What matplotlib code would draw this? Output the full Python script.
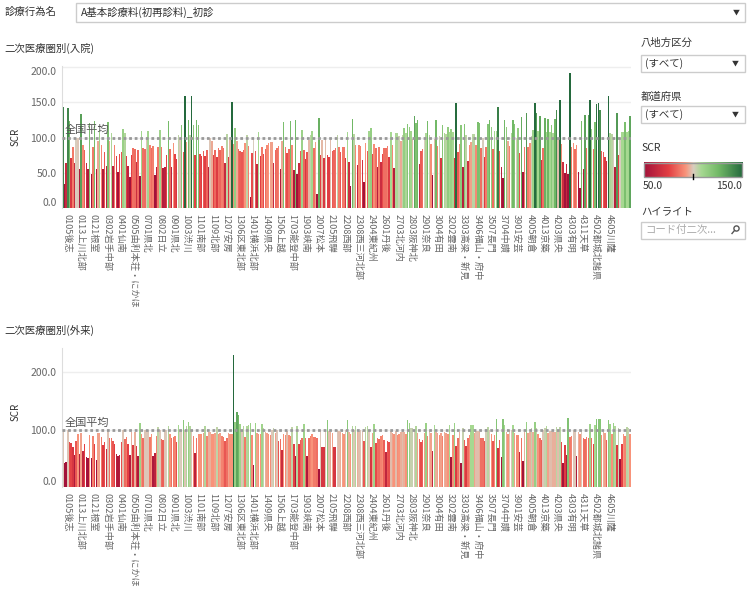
import numpy as np
import matplotlib
matplotlib.use('Agg')
import matplotlib.pyplot as plt
from matplotlib.colors import LinearSegmentedColormap, Normalize
from matplotlib.patches import Rectangle, Circle

plt.rcParams['font.family'] = ['Noto Sans CJK JP', 'DejaVu Sans']

# SCR by secondary medical area (left -> right)
inpatient = [
    143, 35, 64, 141, 124, 71, 87, 64, 100, 99, 55, 133, 90, 82, 64, 55, 121, 49, 87, 124,
    55, 95, 110, 90, 55, 80, 60, 122, 95, 107, 60, 89, 74, 51, 77, 79, 112, 106, 74, 60,
    44, 75, 85, 84, 66, 83, 46, 109, 85, 84, 99, 109, 89, 85, 88, 47, 58, 87, 110, 87,
    57, 59, 75, 124, 84, 59, 92, 76, 70, 104, 99, 118, 80, 159, 94, 125, 104, 159, 118, 75,
    125, 118, 77, 74, 81, 74,
    83, 59, 99, 95, 75, 83, 73, 85, 83, 88, 85, 64, 105, 73, 97, 150, 91, 114, 95, 84,
    81, 80, 83, 92, 104, 88, 16, 78, 100, 81, 63, 108, 74, 87, 77, 84, 90, 92, 94, 94,
    64, 83, 85, 88, 55, 95, 122, 87, 78, 84, 124, 90, 54, 125, 49, 64, 81, 111, 83, 70,
    80, 97, 104, 109, 85, 94, 20, 128, 75, 97, 71, 98, 75, 73, 98, 81, 83, 85, 104, 87,
    80, 87, 87,
    71, 108, 66, 32, 126, 105, 90, 61, 90, 88, 68, 37, 92, 81, 109, 114, 77, 91, 85, 58,
    87, 66, 77, 85, 85, 88, 73, 108, 90, 57, 107, 107, 102, 95, 104, 114, 107, 119, 115, 109,
    98, 131, 121, 125, 63, 81, 84, 100, 107, 124, 104, 91, 47, 98, 125, 88, 102, 71, 118, 107,
    105, 115, 108, 112, 108, 71, 149, 80, 91, 117, 58, 119, 104, 67, 90, 94, 105, 105, 90, 122,
    121, 85, 100, 73,
    87, 119, 125, 115, 84, 109, 109, 143, 81, 58, 43, 125, 115, 95, 88, 107, 125, 119, 100, 114,
    78, 129, 51, 87, 135, 87, 92, 102, 111, 149, 135, 109, 131, 68, 85, 128, 108, 126, 108, 117,
    107, 126, 139, 98, 153, 91, 66, 50, 63, 49, 191, 87, 92, 84, 90, 51, 29, 124, 56, 132,
    85, 132, 153, 112, 84, 122, 148, 149, 139, 81, 80, 73, 67, 159, 107, 105, 100, 58, 135, 75,
    100, 108, 108, 122, 108, 109, 131,
]

outpatient = [
    99, 42, 44, 99, 78, 76, 70, 55, 80, 92, 58, 94, 63, 75, 52, 50, 91, 51, 89, 75,
    47, 94, 94, 87, 73, 78, 66, 99, 85, 85, 80, 75, 58, 54, 56, 78, 99, 84, 87, 75,
    56, 96, 73, 96, 72, 54, 111, 92, 85, 99, 99, 99, 87, 92, 54, 59, 89, 104, 99, 84,
    82, 99, 100, 106, 92, 85, 87, 89, 78, 108, 100, 99, 117, 99, 106, 113, 106, 99, 89, 59,
    85, 92, 92, 92, 94, 106, 89, 96, 96, 92, 92, 94, 104, 92, 94, 89, 87, 80, 85, 94,
    92, 92, 230, 113, 131, 126, 110, 99, 106, 87, 106, 108, 112, 91, 38, 112, 94, 92, 92, 110,
    103, 96, 94, 92, 91, 99, 103, 94, 99, 80, 84, 65, 92, 91, 98, 91, 89, 104, 75, 54,
    106, 75, 82, 85, 110, 85, 54, 85, 89, 92, 87, 87, 85, 31, 99, 70, 70, 99, 117, 98,
    96, 94, 70, 70, 99, 98, 96, 94, 92, 99, 117, 96, 92, 106, 99, 106, 96, 98, 99, 98,
    80, 105, 106, 99, 70, 94, 110, 77, 85, 84, 89, 91, 82, 61, 80, 78, 98, 94, 92, 98,
    91, 92, 96, 98, 96, 92, 117, 112, 103, 103, 99, 106, 94, 84, 78, 82, 94, 112, 89, 98,
    94, 63, 108, 96, 94, 91, 94, 89, 96, 94, 92, 108, 52, 91, 112, 72, 85, 96, 42, 103,
    82, 72, 85, 91, 108, 108, 94, 98, 98, 96, 85, 85, 80, 101, 105, 99, 92, 80, 91, 119,
    68, 82, 52, 119, 108, 96, 92, 99, 99, 108, 94, 91, 91, 61, 85, 45, 96, 113, 94, 96,
    103, 96, 113, 103, 92, 85, 82, 99, 103, 106, 94, 98, 98, 96, 96, 105, 98, 105, 78, 42,
    73, 56, 120, 87, 89, 99, 99, 54, 96, 92, 99, 85, 84, 87, 85, 110, 85, 75, 108, 119,
    119, 119, 91, 96, 94, 82, 117, 110, 92, 112, 106, 73, 103, 49, 75, 92, 89, 105, 103, 92,
]

area_labels = [
    '0105後志', '0113上川北部', '0121根室', '0302岩手中部', '0401仙南', '0505由利本荘・にかほ',
    '0701県北', '0802日立', '0901県北', '1003渋川', '1101南部', '1109北部', '1207安房',
    '1306区東北部', '1401横浜北部', '1409県央', '1506上越', '1703能登中部', '1903峡南',
    '2007松本', '2105飛騨', '2208西部', '2308西三河北部', '2404東紀州', '2601丹後',
    '2703北河内', '2803阪神北', '2901奈良', '3004有田', '3202雲南', '3303高梁・新見',
    '3406福山・府中', '3507長門', '3704中讃', '3901安芸', '4005朝倉', '4013京築',
    '4203県央', '4303有明', '4311天草', '4502都城北諸県', '4605川薩',
]

cmap = LinearSegmentedColormap.from_list('rg', [
    (0.0, '#a3123a'), (0.25, '#e33f43'), (0.42, '#f8937a'), (0.5, '#d9cdbf'),
    (0.58, '#a6d891'), (0.75, '#73ba67'), (1.0, '#24693d')])
norm = Normalize(50, 150, clip=True)

W, H = 749, 590
fig = plt.figure(figsize=(W / 100, H / 100), dpi=100)


def px_axes(x0, y0, x1, y1):
    return fig.add_axes([x0 / W, 1 - y1 / H, (x1 - x0) / W, (y1 - y0) / H])


def panel(ax, vals, ymax, ticks, shift_top):
    vals = np.asarray(vals, dtype=float)
    n = len(vals)
    x = np.arange(n)
    for t in ticks:
        ax.axhline(t, color='#eeeeee', lw=1, zorder=0)
    ax.bar(x, vals, width=0.9, color=cmap(norm(vals)), zorder=2, linewidth=0,
           antialiased=False)
    ax.axhline(100, color='#999999', lw=2, ls=(0, (1, 1)), zorder=3)
    ax.text(1, 106, '全国平均', fontsize=8, color='#555555', zorder=4)
    ax.set_xlim(-0.5, n - 0.5)
    ax.set_ylim(0, ymax)
    ax.set_yticks(ticks)
    ax.set_yticklabels(['%.1f' % t for t in ticks], fontsize=7.5, color='#666666')
    labs = ax.get_yticklabels()
    labs[0].set_va('bottom')
    if shift_top:
        labs[-1].set_va('top')
    pos = np.linspace(2.5, n - 13.5, len(area_labels))
    ax.set_xticks(pos)
    ax.set_xticklabels(area_labels, rotation=270, fontsize=6.6, color='#666666')
    ax.tick_params(length=0, pad=4)
    for s in ['top', 'right', 'bottom']:
        ax.spines[s].set_visible(False)
    ax.spines['left'].set_color('#dddddd')
    ax.set_facecolor('none')


ax1 = px_axes(62, 66, 631, 208.3)
panel(ax1, inpatient, 201, [0, 50, 100, 150, 200], True)

ax2 = px_axes(62, 348, 631, 487)
panel(ax2, outpatient, 242.6, [0, 100, 200], False)

# dashboard furniture in pixel coordinates
ui = fig.add_axes([0, 0, 1, 1], zorder=10)
ui.set_xlim(0, W)
ui.set_ylim(H, 0)
ui.axis('off')
ui.patch.set_alpha(0)

dark = '#333333'
ui.text(5, 12, '診療行為名', fontsize=7.5, color=dark, va='center')
ui.add_patch(Rectangle((76, 3), 669, 19, fill=False, ec='#cccccc', lw=1))
ui.text(81, 12.5, 'A基本診療料(初再診料)_初診', fontsize=7.5, color=dark, va='center')
ui.text(736, 12.5, '▼', fontsize=5, color=dark, va='center', ha='center')

ui.text(4, 48, '二次医療圏別(入院)', fontsize=7.5, color=dark, va='center')
ui.text(4, 330, '二次医療圏別(外来)', fontsize=7.5, color=dark, va='center')
ui.text(16, 137, 'SCR', fontsize=7, color=dark, rotation=90, va='center', ha='center')
ui.text(16, 412, 'SCR', fontsize=7, color=dark, rotation=90, va='center', ha='center')

ui.text(641, 43, '八地方区分', fontsize=7.5, color=dark, va='center')
ui.add_patch(Rectangle((641, 55), 104, 17, fill=False, ec='#cccccc', lw=1))
ui.text(645, 63.5, '(すべて)', fontsize=7.5, color=dark, va='center')
ui.text(735, 63.5, '▼', fontsize=5, color=dark, va='center', ha='center')

ui.text(641, 97, '都道府県', fontsize=7.5, color=dark, va='center')
ui.add_patch(Rectangle((641, 106), 104, 17, fill=False, ec='#cccccc', lw=1))
ui.text(645, 114.5, '(すべて)', fontsize=7.5, color=dark, va='center')
ui.text(735, 114.5, '▼', fontsize=5, color=dark, va='center', ha='center')

ui.text(641, 148, 'SCR', fontsize=7.5, color=dark, va='center')
grad = np.linspace(0, 1, 256).reshape(1, -1)
ui.imshow(grad, cmap=cmap, extent=[643.5, 742, 177, 162.5], aspect='auto', zorder=1)
ui.add_patch(Rectangle((643.5, 162.5), 98.5, 14.5, fill=False, ec='#999999', lw=1, zorder=2))
ui.plot([692.5, 692.5], [174, 178.5], color='black', lw=1, zorder=3)
ui.text(643, 186, '50.0', fontsize=7.5, color=dark, va='center')
ui.text(742, 186, '150.0', fontsize=7.5, color=dark, va='center', ha='right')

ui.text(641, 211, 'ハイライト', fontsize=7.5, color=dark, va='center')
ui.add_patch(Rectangle((641, 221.5), 104, 17.5, fill=False, ec='#cccccc', lw=1))
ui.text(645, 230, 'コード付二次...', fontsize=7.5, color='#aaaaaa', va='center')
ui.add_patch(Circle((736.5, 228.5), 2.6, fill=False, ec='#555555', lw=1))
ui.plot([734.5, 732], [230.5, 233.5], color='#555555', lw=1)
ui.set_xlim(0, W)
ui.set_ylim(H, 0)

fig.savefig('out.png', dpi=100)
